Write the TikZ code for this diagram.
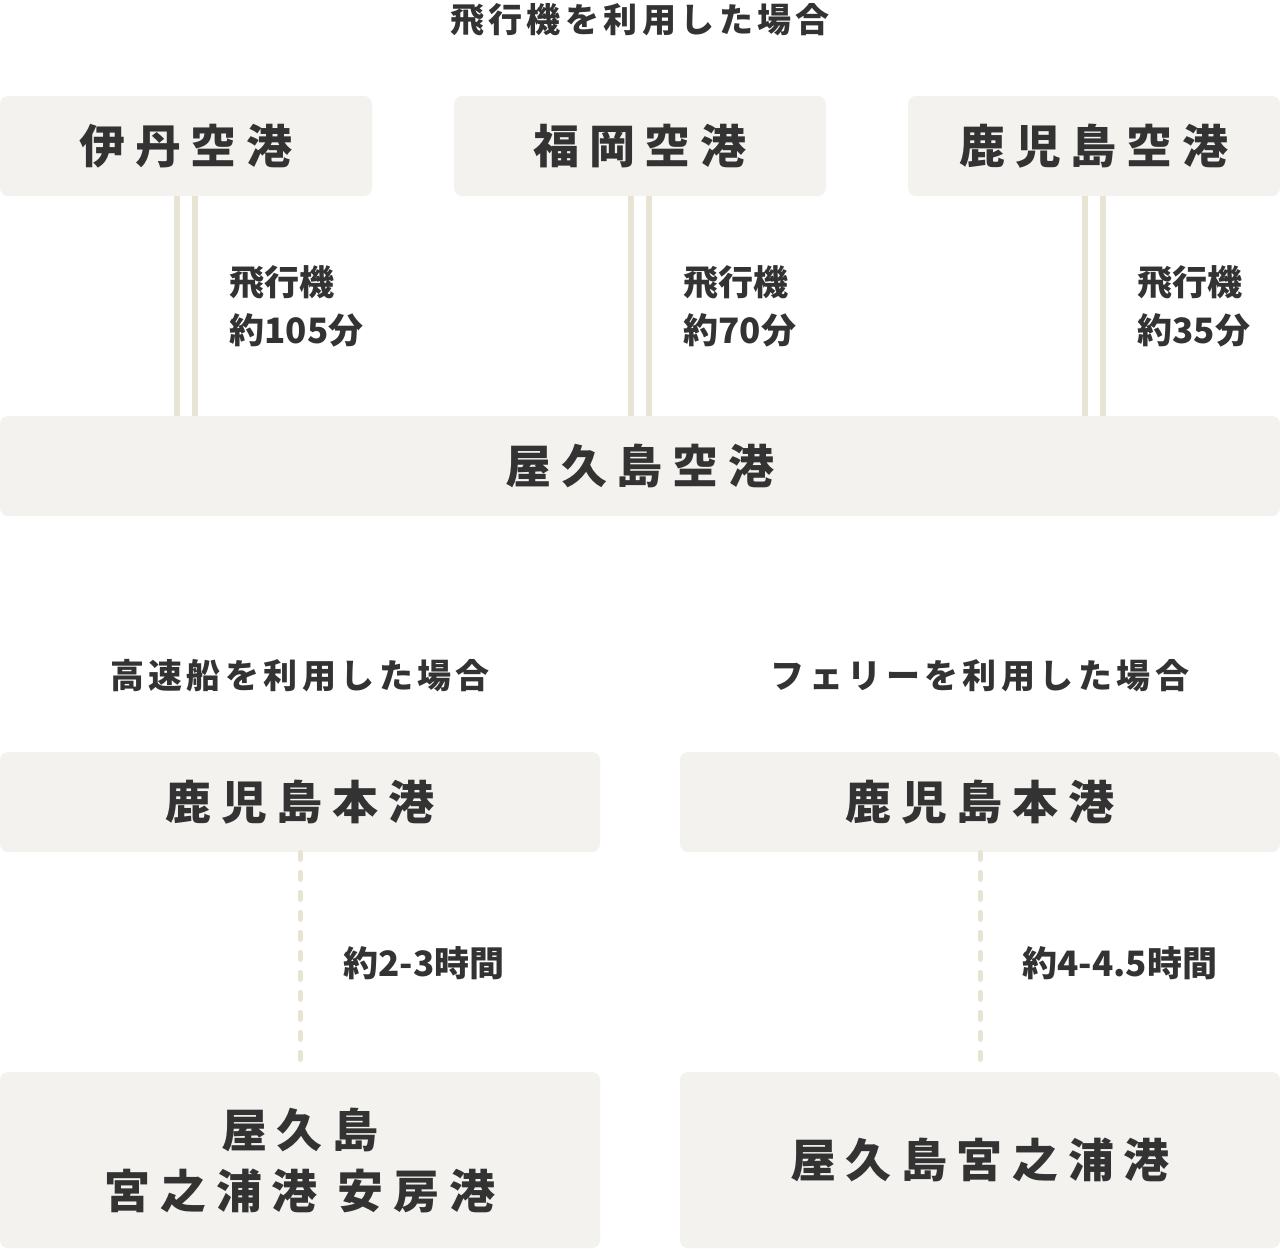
\documentclass[tikz,border=0pt]{standalone}
\usepackage{fontspec}
\usepackage{tikz}
\usetikzlibrary{positioning}
\newfontfamily\jp{Noto Sans CJK JP}
\newfontfamily\jpwide{Noto Sans CJK JP}[LetterSpace=21]
\newfontfamily\jpmid{Noto Sans CJK JP}[LetterSpace=13]
\definecolor{ink}{RGB}{51,51,51}
\definecolor{boxbg}{RGB}{243,242,238}
\definecolor{rail}{RGB}{231,228,211}
\tikzset{
  stn/.style={fill=boxbg,rounded corners=4pt,inner sep=0pt,align=center,text=ink,
              font=\jpwide\bfseries\fontsize{23}{30.5}\selectfont},
  stns/.style={stn,minimum width=186pt,minimum height=50pt},
  stnl/.style={stn,minimum width=300pt,minimum height=50pt},
  hdr/.style={text=ink,inner sep=0pt,font=\jpmid\bfseries\fontsize{17}{22}\selectfont},
  lbl/.style={text=ink,inner sep=0pt,anchor=west,align=left,
              font=\jp\bfseries\fontsize{17.5}{24}\selectfont},
  air/.style={draw=rail,line width=3pt,double=white,double distance=6pt},
  sea/.style={draw=rail,line width=2.5pt,line cap=round,dash pattern=on 3.5pt off 6.5pt},
}
\begin{document}
\begin{tikzpicture}[x=0.5pt,y=-0.5pt]
  \useasboundingbox (0,0) rectangle (1280,1248);

  % by plane
  \node[hdr] (hplane) at (640,20) {飛行機を利用した場合};
  \node[stns] (itami)  at (186,146)  {伊丹空港};
  \node[stns] (fuku)   at (640,146)  {福岡空港};
  \node[stns] (kagoap) at (1094,146) {鹿児島空港};
  \node[stn,minimum width=640pt,minimum height=50pt] (yakuap) at (640,466) {屋久島空港};

  \draw[air] (itami.south)  -- (itami.south |- yakuap.north);
  \draw[air] (fuku.south)   -- (fuku.south |- yakuap.north);
  \draw[air] (kagoap.south) -- (kagoap.south |- yakuap.north);

  \node[lbl] (litami)  at (229,306)  {飛行機\\約105分};
  \node[lbl] (lfuku)   at (683,306)  {飛行機\\約70分};
  \node[lbl] (lkagoap) at (1137,306) {飛行機\\約35分};

  % by fast boat and by ferry
  \node[hdr] (hjet)   at (300,676) {高速船を利用した場合};
  \node[hdr] (hferry) at (980,676) {フェリーを利用した場合};

  \node[stnl] (kagoL) at (300,802) {鹿児島本港};
  \node[stnl] (kagoR) at (980,802) {鹿児島本港};
  \node[stnl,minimum height=88pt] (yakuL) at (300,1160) {屋久島\\宮之浦港 安房港};
  \node[stnl,minimum height=88pt] (yakuR) at (980,1160) {屋久島宮之浦港};

  \draw[sea] (kagoL.south) -- (yakuL.north);
  \draw[sea] (kagoR.south) -- (yakuR.north);

  \node[lbl] (ljet)   at (343,963)  {約2-3時間};
  \node[lbl] (lferry) at (1022,963) {約4-4.5時間};
\end{tikzpicture}
\end{document}
